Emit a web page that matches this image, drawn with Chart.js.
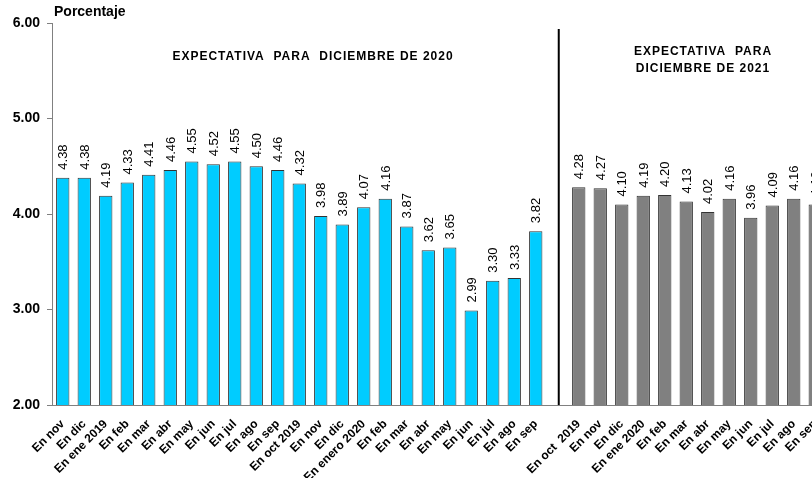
<!DOCTYPE html>
<html>
<head>
<meta charset="utf-8">
<script src="https://cdn.jsdelivr.net/npm/chart.js@4"></script>
<style>
  html, body { margin: 0; padding: 0; background: #fff; overflow: hidden; }
  #wrap { width: 812px; height: 478px; overflow: hidden; }
</style>
</head>
<body>
<div id="wrap"><canvas id="chart" width="826" height="478"></canvas></div>
<script>
// expectativa para diciembre de 2020
const labels2020 = ["En nov", "En dic", "En ene 2019", "En feb", "En mar", "En abr", "En may", "En jun",
  "En jul", "En ago", "En sep", "En oct 2019", "En nov", "En dic", "En enero 2020", "En feb", "En mar",
  "En abr", "En may", "En jun", "En jul", "En ago", "En sep"];
const values2020 = [4.38, 4.38, 4.19, 4.33, 4.41, 4.46, 4.55, 4.52, 4.55, 4.50, 4.46, 4.32,
  3.98, 3.89, 4.07, 4.16, 3.87, 3.62, 3.65, 2.99, 3.30, 3.33, 3.82];

// expectativa para diciembre de 2021
const labels2021 = ["En oct  2019", "En nov", "En dic", "En ene 2020", "En feb", "En mar", "En abr",
  "En may", "En jun", "En jul", "En ago", "En sep"];
const values2021 = [4.28, 4.27, 4.10, 4.19, 4.20, 4.13, 4.02, 4.16, 3.96, 4.09, 4.16, 4.10];

const yTicks = [2, 3, 4, 5, 6];

const FONT = "'Liberation Sans', Arial, sans-serif";
const gapIndex = labels2020.length;
const allLabels = labels2020.concat([""], labels2021);
const pad = n => Array(n).fill(null);
const data2020 = values2020.concat(pad(1 + labels2021.length));
const data2021 = pad(labels2020.length + 1).concat(values2021);

const extras = {
  id: "extras",
  afterDatasetsDraw(chart) {
    const ctx = chart.ctx;
    const area = chart.chartArea;
    const x = chart.scales.x;

    // value labels, vertical
    ctx.save();
    ctx.fillStyle = "#000";
    ctx.font = "13px " + FONT;
    ctx.textAlign = "left";
    ctx.textBaseline = "middle";
    chart.data.datasets.forEach((ds, di) => {
      chart.getDatasetMeta(di).data.forEach((bar, i) => {
        const v = ds.data[i];
        if (v == null) return;
        ctx.save();
        ctx.translate(bar.x + 1, bar.y - 8);
        ctx.rotate(-Math.PI / 2);
        ctx.fillText(v.toFixed(2), 0, 0);
        ctx.restore();
      });
    });
    ctx.restore();

    // separator line
    const sx = x.getPixelForValue(gapIndex) + 1.5;
    ctx.save();
    ctx.strokeStyle = "#000";
    ctx.lineWidth = 2;
    ctx.beginPath();
    ctx.moveTo(sx, area.top + 6);
    ctx.lineTo(sx, area.bottom);
    ctx.stroke();
    ctx.restore();

    // titles
    ctx.save();
    ctx.fillStyle = "#000";
    ctx.textBaseline = "middle";
    ctx.font = "bold 14px " + FONT;
    ctx.textAlign = "left";
    ctx.fillText("Porcentaje", area.left + 2, 12);
    ctx.font = "bold 12px " + FONT;
    ctx.letterSpacing = "1px";
    ctx.textAlign = "center";
    ctx.fillText("EXPECTATIVA  PARA  DICIEMBRE DE 2020", 313, 57);
    ctx.fillText("EXPECTATIVA  PARA", 703, 52);
    ctx.fillText("DICIEMBRE DE 2021", 703, 69);
    ctx.restore();
  }
};

new Chart(document.getElementById("chart"), {
  type: "bar",
  data: {
    labels: allLabels,
    datasets: [
      {
        label: "2020",
        data: data2020,
        backgroundColor: "#00CCFF",
        borderColor: "#333333",
        borderWidth: 1
      },
      {
        label: "2021",
        data: data2021,
        backgroundColor: "#808080",
        borderColor: "#333333",
        borderWidth: 1
      }
    ]
  },
  options: {
    responsive: false,
    animation: false,
    layout: { padding: { top: 23, right: 0, left: 0, bottom: 0 } },
    datasets: { bar: { grouped: false, barPercentage: 0.62, categoryPercentage: 1.0 } },
    plugins: {
      legend: { display: false },
      tooltip: { enabled: false },
      title: { display: false }
    },
    scales: {
      x: {
        offset: true,
        grid: { display: false, drawTicks: false },
        border: { display: true, color: "#808080", width: 1 },
        ticks: {
          autoSkip: false,
          maxRotation: 45,
          minRotation: 45,
          padding: 12,
          color: "#000",
          font: { family: FONT, size: 12, weight: "bold" }
        },
        afterFit(scale) {
          scale.height = 73;
          scale.paddingLeft = 0;
          scale.paddingRight = 0;
        }
      },
      y: {
        min: 2,
        max: 6,
        afterBuildTicks(scale) { scale.ticks = yTicks.map(v => ({ value: v })); },
        grid: { display: true, drawOnChartArea: false, tickLength: 5, color: "#808080" },
        border: { display: true, color: "#808080", width: 1 },
        ticks: {
          color: "#000",
          padding: 7,
          font: { family: FONT, size: 14, weight: "bold" },
          callback: v => v.toFixed(2)
        },
        afterFit(scale) { scale.width = 52; }
      }
    }
  },
  plugins: [extras]
});
</script>
</body>
</html>
